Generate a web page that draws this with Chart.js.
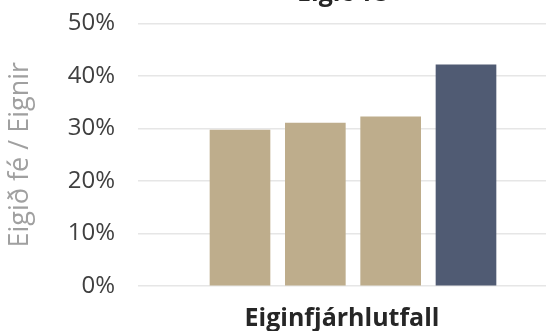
<!DOCTYPE html>
<html>
<head>
<meta charset="utf-8">
<script src="https://cdn.jsdelivr.net/npm/chart.js@4"></script>
<style>
  html, body { margin: 0; padding: 0; background: #fff; overflow: hidden; }
  /* the original picture is cropped at the top, through the title */
  #wrap { width: 546px; height: 345px; margin-top: -14px; }
</style>
</head>
<body>
<div id="wrap"><canvas id="myChart"></canvas></div>
<script>
'use strict';

let chartTitle = 'Eigið fé';
let groupLabel = 'Eiginfjárhlutfall';
let yTitle = 'Eigið fé / Eignir';
let barNames = ['Banki 1', 'Banki 2', 'Banki 3', 'Banki 4'];
let barValues = [29.7, 31.0, 32.2, 42.1];
let yMin = 0;
let yMax = 50;
let yStep = 10;

let tan = '#BEAD8C';
let slate = '#505B73';
let barColors = [tan, tan, tan, slate];

// one bar per name, placed at 1..n on a linear x axis
let points = [];
for (let i = 0; i < barValues.length; i++) {
    points.push({ x: i + 1, y: barValues[i], name: barNames[i] });
}

let ctx = document.getElementById('myChart').getContext('2d');
let myChart = new Chart(ctx, {
    type: 'bar',
    data: {
        datasets: [{
            label: groupLabel,
            data: points,
            backgroundColor: barColors,
            borderWidth: 0,
            barThickness: 60
        }]
    },
    options: {
        responsive: true,
        maintainAspectRatio: false,
        animation: false,
        layout: { padding: 0 },
        plugins: {
            legend: { display: false },
            tooltip: { enabled: false },
            title: {
                display: true,
                text: chartTitle,
                fullSize: false,
                color: '#262626',
                font: { family: 'Open Sans', size: 25, weight: 'bold' },
                padding: { top: -39, bottom: 15 }
            }
        },
        scales: {
            x: {
                type: 'linear',
                offset: false,
                min: -0.354,
                max: 5.062,
                grid: { display: false, offset: false },
                border: { display: false },
                ticks: { display: false },
                title: {
                    display: true,
                    text: groupLabel,
                    color: '#262626',
                    font: { family: 'Open Sans', size: 25, weight: 'bold' },
                    padding: { top: 0, bottom: -3 }
                },
                afterFit: function (scale) { scale.height = 45; }
            },
            y: {
                min: yMin,
                max: yMax,
                ticks: {
                    stepSize: yStep,
                    padding: 23,
                    color: '#404040',
                    font: { family: 'Open Sans', size: 24 },
                    callback: function (v) { return v + '%'; }
                },
                grid: { color: '#e6e6e6', lineWidth: 1.5, drawTicks: false },
                border: { display: false },
                title: {
                    display: true,
                    text: yTitle,
                    color: '#a0a0a0',
                    font: { family: 'Open Sans', size: 27 },
                    padding: { top: 4, bottom: 0 }
                },
                afterFit: function (scale) { scale.width = 138; }
            }
        }
    }
});
</script>
</body>
</html>
